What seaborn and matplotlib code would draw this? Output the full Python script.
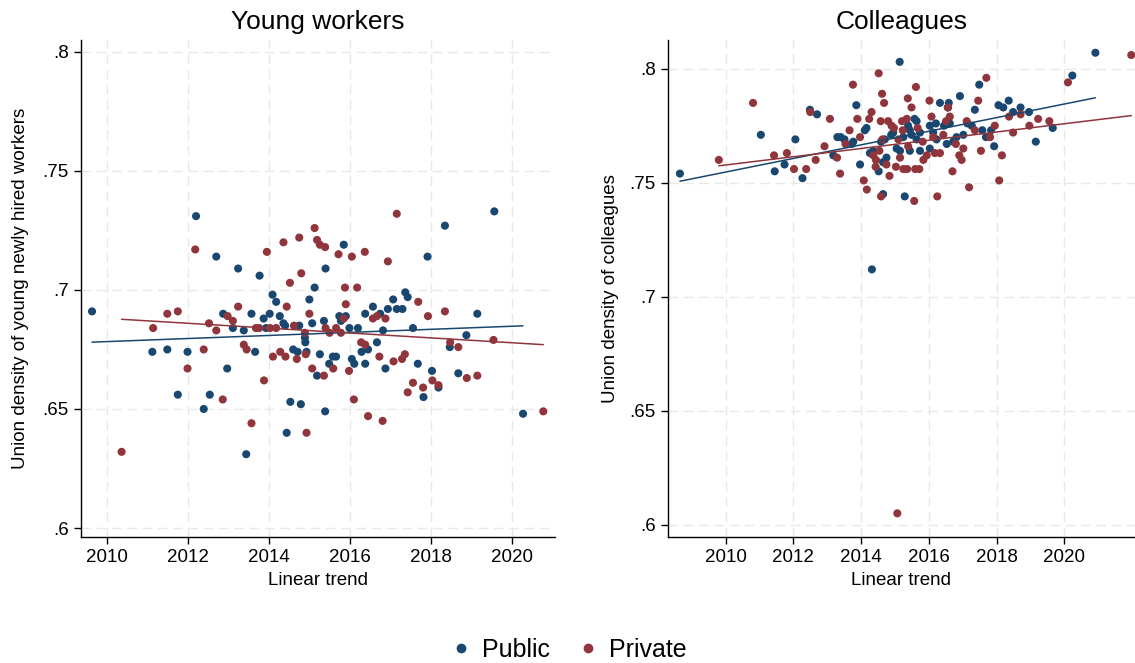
import numpy as np
import pandas as pd
import matplotlib
matplotlib.use("Agg")
import matplotlib.pyplot as plt
from matplotlib.ticker import FuncFormatter
from matplotlib.lines import Line2D
import seaborn as sns

# Young workers - public sector
young_pub_x = [2012.19, 2012.69, 2013.23, 2009.62, 2012.86, 2013.10, 2011.11, 2011.48, 2011.98, 2012.96,
               2011.74, 2012.53, 2012.38, 2013.76, 2015.84, 2015.39, 2015.12, 2014.08, 2014.17, 2014.99,
               2013.56, 2014.01, 2013.86, 2014.26, 2014.35, 2014.39, 2013.37, 2013.92, 2014.74, 2015.06,
               2015.35, 2015.73, 2015.89, 2015.77, 2015.98, 2016.19, 2016.37, 2016.56, 2016.74, 2016.93,
               2016.81, 2014.88, 2014.89, 2013.65, 2014.59, 2014.70, 2014.92, 2015.25, 2015.57, 2015.65,
               2015.48, 2016.04, 2016.10, 2016.37, 2016.28, 2016.44, 2016.66, 2016.87, 2015.18, 2014.52,
               2014.78, 2015.38, 2014.43, 2013.43, 2019.56, 2018.34, 2017.91, 2017.36, 2017.42, 2017.06,
               2017.15, 2017.29, 2019.14, 2017.55, 2018.87, 2018.46, 2017.67, 2018.02, 2018.67, 2018.18,
               2017.81, 2020.27]
young_pub_y = [0.731, 0.714, 0.709, 0.691, 0.690, 0.684, 0.674, 0.675, 0.674, 0.667,
               0.656, 0.656, 0.650, 0.706, 0.719, 0.709, 0.701, 0.698, 0.695, 0.696,
               0.690, 0.690, 0.688, 0.689, 0.686, 0.685, 0.683, 0.684, 0.685, 0.686,
               0.687, 0.689, 0.689, 0.687, 0.684, 0.684, 0.690, 0.693, 0.690, 0.692,
               0.683, 0.680, 0.678, 0.674, 0.675, 0.674, 0.674, 0.673, 0.672, 0.672,
               0.669, 0.671, 0.669, 0.669, 0.674, 0.675, 0.678, 0.667, 0.664, 0.653,
               0.652, 0.649, 0.640, 0.631, 0.733, 0.727, 0.714, 0.699, 0.697, 0.696,
               0.692, 0.692, 0.690, 0.684, 0.681, 0.676, 0.669, 0.666, 0.665, 0.659,
               0.655, 0.648]

# Young workers - private sector
young_prv_x = [2012.17, 2013.23, 2011.48, 2011.74, 2011.13, 2012.51, 2012.69, 2012.97, 2013.10, 2012.38,
               2011.98, 2012.85, 2010.35, 2015.12, 2014.35, 2014.74, 2015.18, 2015.25, 2015.38, 2013.94,
               2015.71, 2016.04, 2016.36, 2016.93, 2014.79, 2014.51, 2015.87, 2016.17, 2015.89, 2014.43,
               2014.99, 2015.84, 2016.56, 2016.66, 2016.87, 2013.67, 2013.75, 2014.02, 2014.17, 2014.61,
               2014.88, 2015.39, 2015.49, 2015.65, 2015.77, 2016.27, 2016.37, 2013.37, 2013.44, 2014.27,
               2014.09, 2014.40, 2014.68, 2014.90, 2016.72, 2015.06, 2015.58, 2015.97, 2015.35, 2013.87,
               2016.09, 2016.44, 2016.80, 2013.56, 2014.92, 2017.15, 2017.68, 2017.92, 2018.34, 2019.54,
               2018.47, 2018.67, 2017.35, 2017.28, 2017.07, 2017.55, 2018.03, 2018.18, 2017.80, 2017.42,
               2018.88, 2019.14, 2020.77]
young_prv_y = [0.717, 0.693, 0.690, 0.691, 0.684, 0.686, 0.683, 0.689, 0.687, 0.675,
               0.667, 0.654, 0.632, 0.726, 0.720, 0.722, 0.721, 0.719, 0.718, 0.716,
               0.715, 0.714, 0.716, 0.712, 0.707, 0.703, 0.701, 0.701, 0.694, 0.693,
               0.690, 0.688, 0.688, 0.689, 0.688, 0.684, 0.684, 0.684, 0.684, 0.685,
               0.682, 0.684, 0.682, 0.684, 0.682, 0.678, 0.677, 0.677, 0.675, 0.674,
               0.672, 0.672, 0.671, 0.673, 0.672, 0.667, 0.667, 0.666, 0.664, 0.662,
               0.654, 0.647, 0.645, 0.644, 0.640, 0.732, 0.695, 0.689, 0.691, 0.679,
               0.678, 0.676, 0.673, 0.671, 0.670, 0.661, 0.662, 0.660, 0.659, 0.657,
               0.663, 0.664, 0.649]

# Colleagues - public sector
coll_pub_x = [2008.65, 2011.04, 2012.06, 2011.74, 2011.45, 2012.27, 2012.49, 2012.70, 2015.14, 2013.86,
              2016.33, 2014.16, 2014.11, 2015.58, 2015.64, 2016.03, 2016.21, 2015.39, 2015.44, 2014.95,
              2014.89, 2015.25, 2015.49, 2015.74, 2016.13, 2013.30, 2013.40, 2013.51, 2013.77, 2013.72,
              2014.59, 2014.70, 2015.64, 2016.23, 2015.05, 2015.15, 2015.44, 2015.74, 2016.03, 2014.36,
              2014.26, 2014.75, 2014.65, 2013.18, 2013.97, 2014.52, 2014.65, 2015.29, 2014.32, 2020.92,
              2020.24, 2017.49, 2016.92, 2016.59, 2016.56, 2018.06, 2018.20, 2018.36, 2017.36, 2018.49,
              2018.71, 2018.96, 2016.62, 2016.45, 2017.14, 2017.27, 2017.58, 2017.84, 2017.02, 2016.82,
              2017.69, 2016.53, 2016.72, 2017.93, 2019.16, 2019.66]
coll_pub_y = [0.754, 0.771, 0.769, 0.758, 0.755, 0.752, 0.782, 0.780, 0.803, 0.784,
              0.785, 0.774, 0.773, 0.778, 0.777, 0.775, 0.776, 0.775, 0.773, 0.772,
              0.771, 0.770, 0.771, 0.772, 0.772, 0.770, 0.770, 0.769, 0.768, 0.767,
              0.768, 0.769, 0.769, 0.769, 0.765, 0.764, 0.764, 0.764, 0.765, 0.764,
              0.763, 0.761, 0.759, 0.762, 0.758, 0.755, 0.745, 0.744, 0.712, 0.807,
              0.797, 0.793, 0.788, 0.785, 0.783, 0.784, 0.783, 0.786, 0.782, 0.781,
              0.783, 0.781, 0.776, 0.775, 0.776, 0.775, 0.773, 0.773, 0.771, 0.770,
              0.770, 0.767, 0.768, 0.766, 0.768, 0.774]

# Colleagues - private sector
coll_prv_x = [2010.81, 2009.80, 2011.43, 2011.81, 2012.02, 2012.38, 2012.66, 2012.50, 2012.92, 2013.08,
              2014.52, 2013.76, 2014.62, 2014.68, 2015.62, 2015.38, 2015.49, 2016.02, 2014.31, 2014.24,
              2013.89, 2014.58, 2014.80, 2014.90, 2014.97, 2015.21, 2015.35, 2015.23, 2015.67, 2013.66,
              2013.97, 2014.63, 2015.10, 2015.82, 2016.13, 2013.54, 2015.39, 2016.18, 2014.54, 2014.36,
              2014.44, 2013.29, 2015.94, 2015.84, 2015.15, 2015.03, 2014.75, 2014.43, 2015.25, 2015.36,
              2015.60, 2015.72, 2014.84, 2013.38, 2014.08, 2014.17, 2014.59, 2015.57, 2016.25, 2021.98,
              2020.11, 2017.70, 2017.46, 2016.57, 2016.08, 2016.62, 2016.51, 2017.12, 2018.37, 2018.71,
              2019.23, 2019.56, 2017.95, 2018.97, 2017.36, 2018.49, 2016.43, 2017.81, 2016.80, 2017.02,
              2017.54, 2016.33, 2016.90, 2016.97, 2018.16, 2016.70, 2017.19, 2018.08, 2015.07]
coll_prv_y = [0.785, 0.760, 0.762, 0.763, 0.756, 0.756, 0.760, 0.781, 0.766, 0.778,
              0.798, 0.793, 0.789, 0.785, 0.792, 0.787, 0.783, 0.786, 0.781, 0.778,
              0.778, 0.777, 0.777, 0.775, 0.774, 0.777, 0.778, 0.773, 0.774, 0.773,
              0.770, 0.769, 0.769, 0.768, 0.770, 0.767, 0.766, 0.763, 0.764, 0.762,
              0.760, 0.761, 0.762, 0.760, 0.761, 0.757, 0.758, 0.757, 0.756, 0.756,
              0.756, 0.756, 0.753, 0.754, 0.751, 0.747, 0.744, 0.742, 0.744, 0.806,
              0.794, 0.796, 0.786, 0.783, 0.779, 0.779, 0.777, 0.777, 0.779, 0.780,
              0.778, 0.777, 0.775, 0.775, 0.773, 0.772, 0.771, 0.770, 0.767, 0.765,
              0.764, 0.763, 0.762, 0.760, 0.762, 0.755, 0.748, 0.751, 0.605]

sectors = ["Public", "Private"]
palette = {"Public": "#1a476f", "Private": "#90353b"}


def make_df(px, py, rx, ry):
    return pd.DataFrame({
        "year": list(px) + list(rx),
        "density": list(py) + list(ry),
        "sector": ["Public"] * len(px) + ["Private"] * len(rx),
    })


df_young = make_df(young_pub_x, young_pub_y, young_prv_x, young_prv_y)
df_coll = make_df(coll_pub_x, coll_pub_y, coll_prv_x, coll_prv_y)

sns.set_style("white")
plt.rcParams["font.family"] = ["Liberation Sans", "DejaVu Sans"]
plt.rcParams["text.color"] = "black"
plt.rcParams["axes.labelcolor"] = "black"
plt.rcParams["xtick.color"] = "black"
plt.rcParams["ytick.color"] = "black"

fig = plt.figure(figsize=(11.35, 6.63), dpi=100)
ax1 = fig.add_axes([0.0711, 0.1896, 0.4179, 0.7501])
ax2 = fig.add_axes([0.5883, 0.1896, 0.4117, 0.7501])

panels = [
    (ax1, df_young, "Young workers", "Union density of young newly hired workers",
     (2009.34, 2021.06), (0.5961, 0.805), [0.6, 0.65, 0.7, 0.75, 0.8], 10),
    (ax2, df_coll, "Colleagues", "Union density of colleagues",
     (2008.29, 2022.09), (0.5945, 0.8126), [0.6, 0.65, 0.7, 0.75, 0.8], 8),
]

for ax, df, title, ylab, xlim, ylim, yticks, ypad in panels:
    sns.scatterplot(data=df, x="year", y="density", hue="sector", hue_order=sectors,
                    palette=palette, s=34, linewidth=0, ax=ax, legend=False, zorder=3)
    for sec in sectors:
        sub = df[df["sector"] == sec]
        sns.regplot(data=sub, x="year", y="density", scatter=False, ci=None,
                    color=palette[sec], line_kws={"linewidth": 1.1, "zorder": 4}, ax=ax)
    ax.set_xlim(*xlim)
    ax.set_ylim(*ylim)
    ax.set_xticks([2010, 2012, 2014, 2016, 2018, 2020])
    ax.set_yticks(yticks)
    ax.yaxis.set_major_formatter(FuncFormatter(lambda v, p: f"{v:g}".lstrip("0")))
    ax.grid(True, color="#e8e8e8", linestyle=(0, (7, 4)), linewidth=1.0, zorder=0)
    ax.set_axisbelow(True)
    for side in ["top", "right"]:
        ax.spines[side].set_visible(False)
    for side in ["left", "bottom"]:
        ax.spines[side].set_color("black")
        ax.spines[side].set_linewidth(1.0)
    ax.tick_params(axis="both", direction="out", length=5, width=1, color="black",
                   labelsize=13.5, bottom=True, left=True)
    ax.set_title(title, fontsize=19, pad=8)
    ax.set_xlabel("Linear trend", fontsize=13.5, labelpad=4)
    ax.set_ylabel(ylab, fontsize=13.5, labelpad=ypad)

handles = [Line2D([], [], marker="o", linestyle="", markersize=7,
                  markerfacecolor=palette[s], markeredgewidth=0) for s in sectors]
fig.legend(handles, sectors, loc="center", bbox_to_anchor=(0.5, 0.02), ncol=2,
           frameon=False, fontsize=18, handlelength=1.0, handletextpad=0.35,
           columnspacing=1.0)

fig.savefig("out.png", dpi=100)
